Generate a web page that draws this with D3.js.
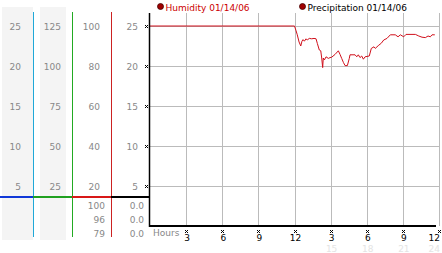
<!DOCTYPE html>
<html>
<head>
<meta charset="utf-8">
<script src="https://cdn.jsdelivr.net/npm/d3@7"></script>
<style>
  body { margin: 0; background: #fff; }
  svg { display: block; font-family: "DejaVu Sans", Verdana, sans-serif; }
</style>
</head>
<body>
<div id="chart"></div>
<script>
var w = 442;
var h = 253;

// humidity readings for 01/14/06 (hour of day, value)
var hours = [0, 12.0, 12.13, 12.23, 12.38, 12.52, 12.62, 12.71, 12.82, 12.96, 13.06, 13.23, 13.43, 13.62, 13.79,
  13.9, 14.06, 14.18, 14.26, 14.34, 14.39, 14.48, 14.62, 14.81, 14.95, 15.09, 15.37, 15.64, 15.78, 15.92,
  16.06, 16.2, 16.39, 16.55, 16.61, 17.03, 17.17, 17.3, 17.44, 17.58, 17.72, 17.86, 18.21, 18.38, 18.6,
  18.71, 18.85, 19.0, 19.21, 19.41, 19.68, 19.96, 20.37, 20.6, 20.79, 21.07, 21.26, 22.04, 22.32, 22.59,
  22.87, 23.09, 23.28, 23.42, 23.65];
var humidity = [25, 25, 24.4, 23.9, 23.0, 22.5, 23.1, 23.3, 23.1, 23.4, 23.25, 23.45, 23.4, 23.45, 23.4,
  22.8, 22.0, 21.9, 21.0, 19.8, 21.0, 20.75, 21.15, 20.95, 21.05, 21.1, 21.45, 21.9, 21.45, 20.95,
  20.45, 20.05, 20.05, 20.95, 21.4, 21.4, 21.15, 21.4, 21.05, 21.25, 20.85, 21.15, 21.25, 22.2, 22.4,
  22.2, 22.4, 22.6, 22.85, 23.25, 23.45, 23.9, 23.9, 23.65, 23.9, 23.65, 23.95, 23.95, 23.75, 23.6,
  23.55, 23.75, 23.65, 23.9, 23.9];

// left panel scales
var col1Ticks = [5, 10, 15, 20, 25];
var col2Ticks = [25, 50, 75, 100, 125];
var col3Ticks = [20, 40, 60, 80, 100];
var col4Ticks = [5, 10, 15, 20, 25];
var col3Readout = ["100", "96", "79"];
var col4Readout = ["0.0", "0.0", "0.0"];

var xTicks = [3, 6, 9, 12, 15, 18, 21, 24];
var xTickLabels = ["3", "6", "9", "12", "3", "6", "9", "12"];
var xFaintLabels = ["", "", "", "", "15", "18", "21", "24"];
var legendLabels = ["Humidity 01/14/06", "Precipitation 01/14/06"];

var svg = d3.select("#chart").append("svg")
  .attr("width", w)
  .attr("height", h);

var x = d3.scaleLinear().domain([0, 24]).range([150, 439]);
var y = d3.scaleLinear().domain([0, 25]).range([226, 26]);
var y2 = d3.scaleLinear().domain([0, 125]).range([226, 26]);
var y3 = d3.scaleLinear().domain([0, 100]).range([226, 26]);
var plotTop = 13;

// column backgrounds
svg.append("rect").attr("x", 2).attr("y", 7).attr("width", 31).attr("height", 233).attr("fill", "#f4f4f4");
svg.append("rect").attr("x", 40).attr("y", 7).attr("width", 26).attr("height", 233).attr("fill", "#f4f4f4");

// column dividers
var dividers = [{x: 33, c: "#20a8d8"}, {x: 72, c: "#22aa22"}, {x: 111, c: "#cc2222"}];
svg.selectAll(".divider").data(dividers).enter().append("rect")
  .attr("x", function(d) { return d.x; })
  .attr("y", 12).attr("width", 1).attr("height", 225)
  .attr("fill", function(d) { return d.c; });

// coloured base line
var baseSegs = [{x1: 0, x2: 33, c: "#1038d8"}, {x1: 33, x2: 72, c: "#20a020"}, {x1: 72, x2: 111, c: "#d81818"}, {x1: 111, x2: 150, c: "#000"}];
svg.selectAll(".baseSeg").data(baseSegs).enter().append("line")
  .attr("x1", function(d) { return d.x1; }).attr("x2", function(d) { return d.x2; })
  .attr("y1", 197).attr("y2", 197)
  .attr("stroke", function(d) { return d.c; }).attr("stroke-width", 2);

function colLabels(ticks, scale, right) {
  svg.append("g").selectAll("text").data(ticks).enter().append("text")
    .attr("x", right)
    .attr("y", function(d) { return scale(d) + 3.5; })
    .attr("text-anchor", "end")
    .attr("font-size", "9px")
    .attr("fill", "#888")
    .text(function(d) { return d; });
}
colLabels(col1Ticks, y, 21);
colLabels(col2Ticks, y2, 61);
colLabels(col3Ticks, y3, 100);
colLabels(col4Ticks, y, 138);

// readouts below base line
var readY = [205, 219, 233];
svg.append("g").selectAll("text").data(col3Readout).enter().append("text")
  .attr("x", 105).attr("y", function(d, i) { return readY[i] + 3.5; })
  .attr("text-anchor", "end").attr("font-size", "9px").attr("fill", "#888")
  .text(function(d) { return d; });
svg.append("g").selectAll("text").data(col4Readout).enter().append("text")
  .attr("x", 144).attr("y", function(d, i) { return readY[i] + 3.5; })
  .attr("text-anchor", "end").attr("font-size", "9px").attr("fill", "#888")
  .text(function(d) { return d; });

// grid
svg.append("g").selectAll("line").data(col4Ticks).enter().append("line")
  .attr("x1", x(0)).attr("x2", x(24))
  .attr("y1", function(d) { return Math.round(y(d)) + 0.5; })
  .attr("y2", function(d) { return Math.round(y(d)) + 0.5; })
  .attr("stroke", "#bbb");
svg.append("g").selectAll("line").data(xTicks).enter().append("line")
  .attr("x1", function(d) { return Math.round(x(d)) + 0.5; })
  .attr("x2", function(d) { return Math.round(x(d)) + 0.5; })
  .attr("y1", plotTop).attr("y2", y(0))
  .attr("stroke", "#bbb");

// tiny tick markers
function marker(g, cx, cy) {
  var pts = [[-1, -1], [1, -1], [0, 0], [-1, 1], [1, 1]];
  g.selectAll(null).data(pts).enter().append("rect")
    .attr("x", function(p) { return Math.round(cx) + p[0]; })
    .attr("y", function(p) { return Math.round(cy) + p[1]; })
    .attr("width", 1).attr("height", 1).attr("fill", "#000");
}
col4Ticks.forEach(function(d) { marker(svg.append("g"), 146, y(d)); });
xTicks.forEach(function(d) { marker(svg.append("g"), x(d), 231); });

// humidity line
var pts = hours.map(function(hh, i) { return [hh, humidity[i]]; });
var line = d3.line().x(function(d) { return x(d[0]); }).y(function(d) { return y(d[1]); });
svg.append("path").datum(pts)
  .attr("d", line)
  .attr("fill", "none")
  .attr("stroke", "#d0101c")
  .attr("stroke-width", 1);

// axes
svg.append("line").attr("x1", 149.5).attr("x2", 149.5).attr("y1", plotTop).attr("y2", 227).attr("stroke", "#000").attr("stroke-width", 1.5);
svg.append("line").attr("x1", 149).attr("x2", 436).attr("y1", 226).attr("y2", 226).attr("stroke", "#000").attr("stroke-width", 2);

// x labels
function tickX(d, i) { return i === xTicks.length - 1 ? x(d) + 1 : x(d) + 1; }
function tickAnchor(d, i) { return i === xTicks.length - 1 ? "end" : "middle"; }
svg.append("text").attr("x", 153).attr("y", 236).attr("font-size", "9px").attr("fill", "#888").text("Hours");
svg.append("g").selectAll("text").data(xTicks).enter().append("text")
  .attr("x", tickX)
  .attr("y", 241)
  .attr("text-anchor", tickAnchor).attr("font-size", "9px").attr("fill", "#000")
  .text(function(d, i) { return xTickLabels[i]; });
svg.append("g").selectAll("text").data(xTicks).enter().append("text")
  .attr("x", tickX)
  .attr("y", 252)
  .attr("text-anchor", tickAnchor).attr("font-size", "9px").attr("fill", "#e4e4e4")
  .text(function(d, i) { return xFaintLabels[i]; });

// legend
var legendX = [160.5, 302.5];
var legendColor = ["#cc0000", "#000"];
legendLabels.forEach(function(lab, i) {
  svg.append("circle").attr("cx", legendX[i]).attr("cy", 6.5).attr("r", 3)
    .attr("fill", "#a00000").attr("stroke", "#400").attr("stroke-width", 0.8);
  svg.append("text").attr("x", legendX[i] + 5).attr("y", 10.5)
    .attr("font-size", "9px").attr("fill", legendColor[i]).text(lab);
});
</script>
</body>
</html>
